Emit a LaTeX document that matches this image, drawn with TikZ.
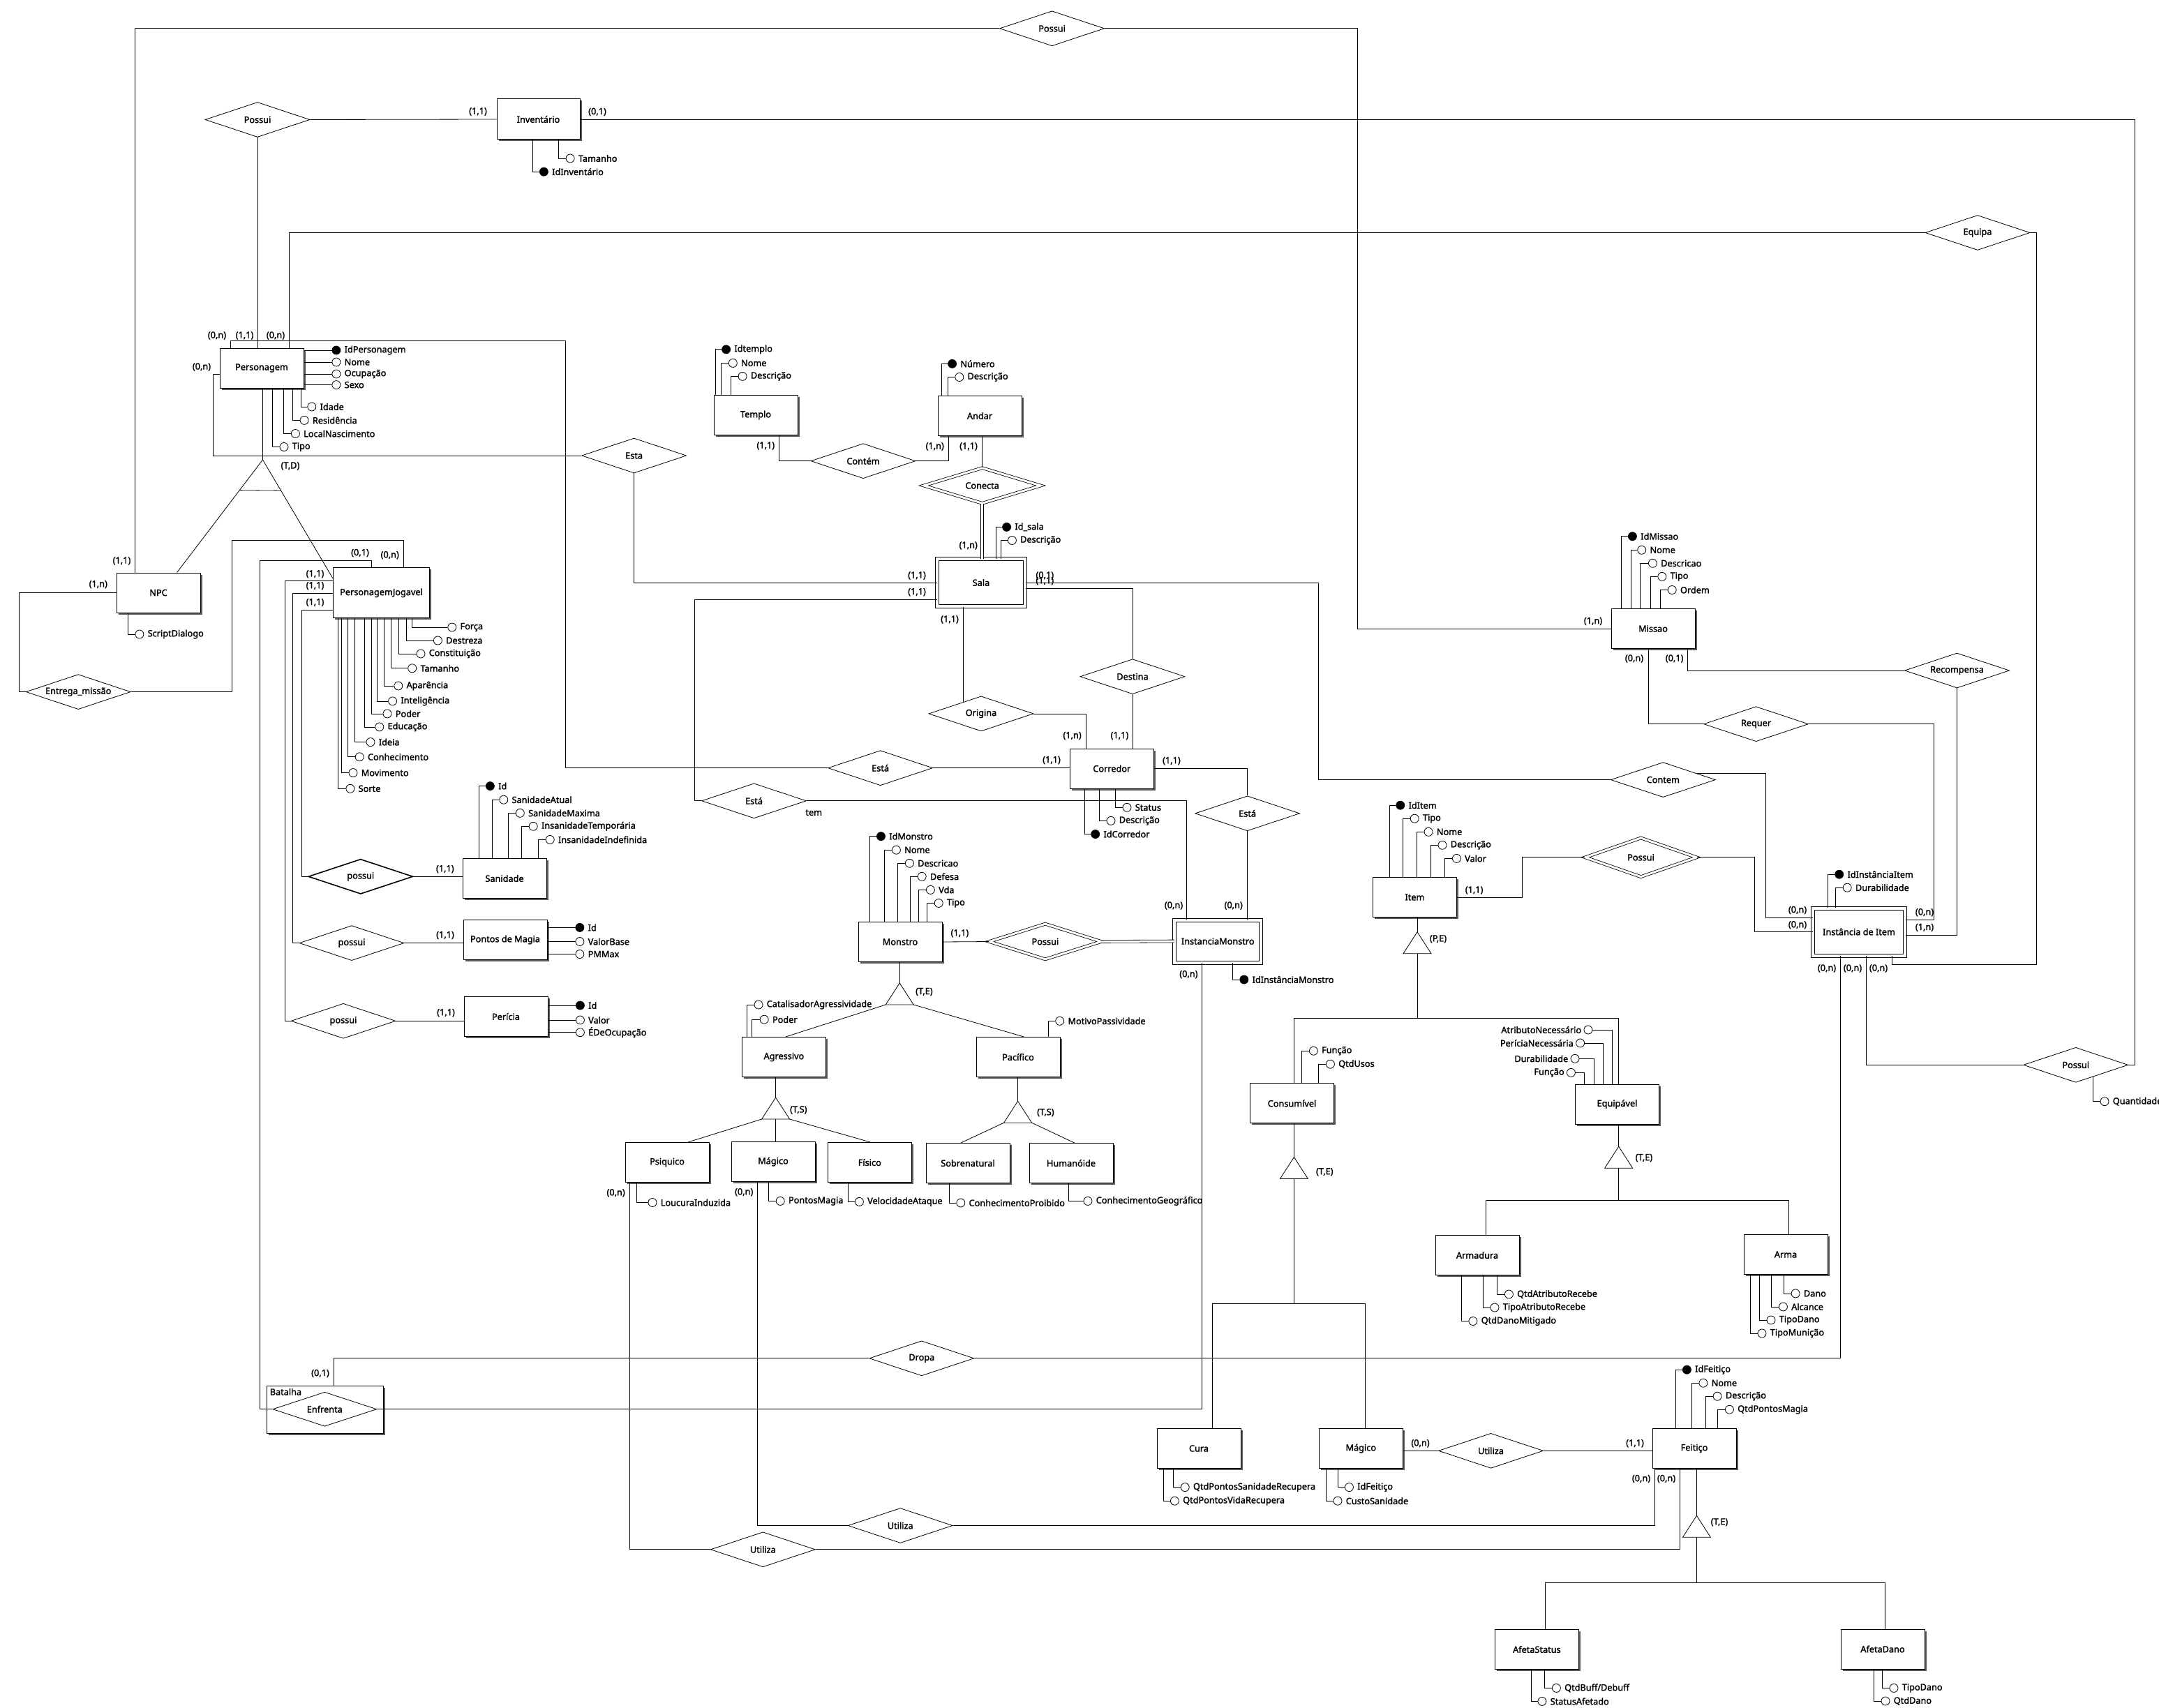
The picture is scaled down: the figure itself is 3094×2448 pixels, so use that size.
\documentclass[tikz,border=0pt]{standalone}
\usepackage{fontspec}
\setmainfont{Noto Sans}[AutoFakeBold=1.8]
\usetikzlibrary{shapes.geometric,shadows,calc}

\tikzset{
	entity/.style={draw, line width=1pt, fill=white, minimum width=120pt, minimum height=57pt, inner sep=2pt,
		drop shadow={shadow xshift=2.5pt, shadow yshift=-2.5pt, fill=black!65, opacity=1}},
	weakentity/.style={entity, double, double distance=4pt},
	rel/.style={draw, diamond, aspect=3, fill=white, minimum width=150pt, minimum height=50pt, inner sep=0pt},
	weakrel/.style={rel, double, double distance=3pt},
	attr/.style={draw, circle, fill=white, minimum size=12pt, inner sep=0pt},
	attrtxt/.style={anchor=west, inner sep=0pt, xshift=5pt},
	card/.style={inner sep=0pt},
	spec/.style={draw, fill=white},
}

\begin{document}
\begin{tikzpicture}[x=1pt, y=-1pt, line width=0.8pt, font=\bfseries\fontsize{12.7}{14}\selectfont]
	\useasboundingbox (0,0) rectangle (3094,2448);
	% entities
	\node[entity, minimum width=119pt, minimum height=58pt] (Inventario) at (771.5,171) {Inventário};
	\node[entity] (Personagem) at (375,527.5) {Personagem};
	\node[entity] (NPC) at (227,849.5) {NPC};
	\node[entity, minimum width=138pt, minimum height=72pt] (PJ) at (546.5,849.8) {PersonagemJogavel};
	\node[entity] (Sanidade) at (723,1259) {Sanidade};
	\node[entity] (PdM) at (724,1347) {Pontos de Magia};
	\node[entity] (Pericia) at (725,1457) {Perícia};
	\node[entity] (Templo) at (1083,595) {Templo};
	\node[entity] (Andar) at (1404,596) {Andar};
	\node[weakentity, minimum width=126pt, minimum height=68pt] (Sala) at (1406,835) {Sala};
	\node[entity] (Corredor) at (1593.3,1101.5) {Corredor};
	\node[entity] (Missao) at (2369,901) {Missao};
	\node[entity] (Monstro) at (1290,1350) {Monstro};
	\node[weakentity, minimum width=124pt, minimum height=61pt] (IM) at (1745.2,1349) {InstanciaMonstro};
	\node[entity] (Item) at (2027.4,1286) {Item};
	\node[weakentity, minimum width=132pt, minimum height=68pt] (InstItem) at (2664,1335.5) {Instância de Item};
	\node[entity] (Agressivo) at (1123.4,1515) {Agressivo};
	\node[entity] (Pacifico) at (1459,1515) {Pacífico};
	\node[entity] (Psiquico) at (956,1666) {Psiquico};
	\node[entity] (MagicoM) at (1108,1665) {Mágico};
	\node[entity] (Fisico) at (1246.3,1666) {Físico};
	\node[entity] (Sobrenatural) at (1387,1667) {Sobrenatural};
	\node[entity] (Humanoide) at (1535,1667) {Humanóide};
	\node[entity] (Consumivel) at (1851.5,1581.4) {Consumível};
	\node[entity] (Equipavel) at (2317.5,1582.5) {Equipável};
	\node[entity] (Armadura) at (2117,1799) {Armadura};
	\node[entity] (Arma) at (2559,1798) {Arma};
	\node[entity] (Cura) at (1718,2076) {Cura};
	\node[entity] (MagicoI) at (1950.3,2076) {Mágico};
	\node[entity] (Feitico) at (2428,2076) {Feitiço};
	\node[entity] (AfetaStatus) at (2202.4,2364) {AfetaStatus};
	\node[entity] (AfetaDano) at (2698,2363.5) {AfetaDano};
	% aggregation
	\node[entity, minimum width=167pt, minimum height=68pt] (Batalha) at (466.4,2020) {};
	\node[anchor=north west, inner sep=0pt] (BatalhaTxt) at ([shift={(4pt,-4pt)}]Batalha.north west) {Batalha};
	% relationships
	\node[rel] (PossuiTop) at (1507.6,40.8) {Possui};
	\node[rel] (PossuiInv) at (369,171.5) {Possui};
	\node[rel] (Equipa) at (2834,333.5) {Equipa};
	\node[rel] (Esta) at (908.6,653) {Esta};
	\node[rel] (ContemTA) at (1237,660.7) {Contém};
	\node[weakrel, minimum width=168pt, minimum height=51pt] (Conecta) at (1407.6,696) {Conecta};
	\node[rel] (Entrega) at (112.2,991.6) {Entrega\_missão};
	\node[rel] (Origina) at (1406,1022.9) {Origina};
	\node[rel] (Destina) at (1623,969.7) {Destina};
	\node[rel] (EstaCorr) at (1261.6,1100.7) {Está};
	\node[rel] (EstaSalaIM) at (1080.5,1147.8) {Está};
	\node[rel] (EstaCorrIM) at (1787.6,1165.8) {Está};
	\node[rel] (Recompensa) at (2804.5,961) {Recompensa};
	\node[rel] (Requer) at (2516.5,1037.7) {Requer};
	\node[rel] (ContemSI) at (2383.3,1117.6) {Contem};
	\node[weakrel, minimum width=160pt, minimum height=56pt] (PossuiI) at (2351.5,1228.8) {Possui};
	\node[weakrel, minimum width=161pt, minimum height=51pt] (PossuiM) at (1497.9,1349.5) {Possui};
	\node[rel, line width=1.6pt] (possuiSan) at (516.8,1256.3) {possui};
	\node[rel] (possuiPdM) at (504,1351.6) {possui};
	\node[rel] (possuiPer) at (492,1463.3) {possui};
	\node[rel] (Dropa) at (1320.8,1946.8) {Dropa};
	\node[rel, minimum width=149pt, minimum height=49pt] (Enfrenta) at (465.3,2019.7) {Enfrenta};
	\node[rel] (UtilizaM) at (1290.2,2186.5) {Utiliza};
	\node[rel] (UtilizaP) at (1093.3,2220.8) {Utiliza};
	\node[rel] (UtilizaF) at (2136.5,2079.3) {Utiliza};
	\node[rel] (PossuiQ) at (2974.7,1526.3) {Possui};
	\node (tem) at (1166.2,1164.7) {tem};

	% connectors
	\draw (NPC.north -| 193,0) |- (PossuiTop.west);
	\draw (PossuiTop.east) -| (1945.7,901) -- (Missao.west);
	\draw (PossuiInv.east) -- (Inventario.west);
	\draw (PossuiInv.south) -- (Personagem.north -| PossuiInv.south);
	\draw (Inventario.east) -| (3059.4,1526.3) -- (PossuiQ.east);
	\draw (PossuiQ.west) -| (InstItem.south -| 2674.2,0);
	\draw (Personagem.north -| 414,0) |- (Equipa.west);
	\draw (Equipa.east) -| (2918.5,1382) -| (InstItem.south -| 2711.7,0);
	\draw (Personagem.north -| 330.6,0) |- (810.6,488) |- (EstaCorr.west);
	\draw (EstaCorr.east) -- (Corredor.west |- EstaCorr.east);
	\draw (Personagem.west |- 0,536.3) -| (305,653) -- (Esta.west);
	\draw (Esta.south) |- (Sala.west);
	\draw (Sala.west |- 0,859.3) -| (995.3,1147.8) -- (EstaSalaIM.west);
	\draw (EstaSalaIM.east) -| (IM.north -| 1700.8,0);
	\coordinate (oriTop) at ($(Origina.north)!0.34!(Origina.west)$);
	\draw (Sala.south -| oriTop) -- (oriTop);
	\draw (Origina.east) -| (Corredor.north -| 1556,0);
	\draw (Sala.east |- 0,843.4) -| (Destina.north);
	\draw (Destina.south) -- (Corredor.north -| Destina.south);
	\draw (Sala.east) -| (1889.6,1117.6) -- (ContemSI.west);
	\coordinate (csiOut) at ($(ContemSI.north)!0.64!(ContemSI.east)$);
	\draw (csiOut) -| (2530.4,1315) -- (InstItem.west |- 0,1315);
	\draw (Templo.south -| 1116.7,0) |- (ContemTA.west);
	\draw (ContemTA.east) -| (Andar.south -| 1359.6,0);
	\draw (Andar.south -| Conecta.north) -- (Conecta.north);
	\draw[double, double distance=3pt] (Conecta.south) -- (Sala.north -| Conecta.south);
	\draw (PJ.north -| 578.6,0) |- (332.6,774) |- (Entrega.east);
	\draw (Entrega.west) -| (27.6,849.5) -- (NPC.west);
	\draw (PJ.north -| 532.6,0) |- (372.4,803.6) |- (Enfrenta.west);
	\draw (PJ.west |- 0,832.8) -| (408,1463.3) -- (possuiPer.west);
	\draw (PJ.west |- 0,850.3) -| (419.4,1351.6) -- (possuiPdM.west);
	\draw (PJ.west |- 0,874.6) -| (432.7,1256.3) -- (possuiSan.west);
	\draw (possuiSan.east) -- (Sanidade.west |- possuiSan.east);
	\draw (possuiPdM.east) -- (PdM.west |- possuiPdM.east);
	\draw (possuiPer.east) -- (Pericia.west |- possuiPer.east);
	\draw (Monstro.east) -- (PossuiM.west);
	\draw[double, double distance=3pt] (PossuiM.east) -- (IM.west);
	\draw (IM.north -| EstaCorrIM.south) -- (EstaCorrIM.south);
	\draw (EstaCorrIM.north) |- (Corredor.east);
	\draw (Enfrenta.east) -| (IM.south -| 1722,0);
	\draw (Batalha.north -| 478.6,0) |- (Dropa.west);
	\draw (Dropa.east) -| (InstItem.south -| 2637.6,0);
	\draw (Psiquico.south -| 902.4,0) |- (UtilizaP.west);
	\draw (UtilizaP.east) -| (Feitico.south -| 2407.3,0);
	\draw (MagicoM.south -| 1085.6,0) |- (UtilizaM.west);
	\draw (UtilizaM.east) -| (Feitico.south -| 2371.7,0);
	\draw (MagicoI.east |- UtilizaF.west) -- (UtilizaF.west);
	\draw (UtilizaF.east) -- (Feitico.west |- UtilizaF.east);
	\draw (Missao.south -| 2362.6,0) |- (Requer.west);
	\draw (Requer.east) -| (2771.8,1318.3) -- (InstItem.east |- 0,1318.3);
	\draw (Missao.south -| 2418.4,0) |- (Recompensa.west);
	\draw (Recompensa.south) |- (InstItem.east |- 0,1340);
	\draw (Item.east) -| (2181.4,1228.8) -- (PossuiI.west);
	\draw (PossuiI.east) -| (2514.6,1335.5) -- (InstItem.west);

	% generalizations
	\coordinate (gPer) at (376.5,659);
	\coordinate (gNPC) at (NPC.north -| 253.6,0);
	\coordinate (gPJ) at (PJ.west |- 0,829);
	\draw (Personagem.south -| gPer) -- (gPer) -- (gNPC);
	\draw (gPer) -- (gPJ);
	\draw ($(gPer)!0.27!(gNPC)$) -- ($(gPer)!0.26!(gPJ)$);
	\coordinate (gMon) at (1289.2,1409);
	\coordinate (gAgr) at (1111.6,1573);
	\coordinate (gPac) at (1458.6,1578.2);
	\coordinate (gItem) at (2031,1335.7);
	\coordinate (gCon) at (1854.4,1658.5);
	\coordinate (gEqu) at (2319.7,1643.2);
	\coordinate (gFei) at (2431.4,2172.3);
	\draw (Monstro.south -| gMon) -- (gMon);
	\draw ($(gMon)+(-20,31)$) -- (Agressivo.north -| 1126,0);
	\draw ($(gMon)+(20,31)$) -- (Pacifico.north -| 1467.2,0);
	\draw (Agressivo.south -| gAgr) -- (gAgr);
	\draw ($(gAgr)+(-20,31)$) -- (Psiquico.north -| 986,0);
	\draw ($(gAgr)+(0,31)$) -- (MagicoM.north -| gAgr);
	\draw ($(gAgr)+(20,31)$) -- (Fisico.north -| 1247.3,0);
	\draw (Pacifico.south -| gPac) -- (gPac);
	\draw ($(gPac)+(-20,31)$) -- (Sobrenatural.north -| 1377,0);
	\draw ($(gPac)+(20,31)$) -- (Humanoide.north -| 1539.7,0);
	\draw (Item.south -| gItem) -- (gItem);
	\draw ($(gItem)+(0,31)$) -- (gItem |- 0,1459);
	\draw (Consumivel.north -| gCon) |- (gEqu |- 0,1459) -- (Equipavel.north -| gEqu);
	\draw (Consumivel.south -| gCon) -- (gCon);
	\draw ($(gCon)+(0,31)$) -- (gCon |- 0,1868);
	\draw (Cura.north -| 1737.6,0) |- (1956.4,1868) -- (MagicoI.north -| 1956.4,0);
	\draw (Equipavel.south -| gEqu) -- (gEqu);
	\draw ($(gEqu)+(0,31)$) -- (gEqu |- 0,1720.8);
	\draw (Armadura.north -| 2129.4,0) |- (2563.6,1720.8) -- (Arma.north -| 2563.6,0);
	\draw (Feitico.south -| gFei) -- (gFei);
	\draw ($(gFei)+(0,31)$) -- (gFei |- 0,2268.4);
	\draw (AfetaStatus.north -| 2214,0) |- (2701.6,2268.4) -- (AfetaDano.north -| 2701.6,0);
	\foreach \g in {gMon,gAgr,gPac,gItem,gCon,gEqu,gFei}
		\draw[spec] (\g) -- ++(-20,31) -- ++(40,0) -- cycle;
	\foreach \x/\y/\a/\b [count=\i] in {416/668/T/D, 1324.4/1421.5/T/E, 1144.3/1590.9/T/S,
		1498.4/1594.6/T/S, 2061/1345.8/P/E, 1898.3/1679.7/T/E, 2355.9/1659.6/T/E, 2464/2181.8/T/E}
		\node[card] (spec\i) at (\x,\y) {(\a,\b)};

	% cardinalities
	\foreach \x/\y/\a/\b [count=\i] in {174.5/804/1/1, 2283/890.5/1/n, 685/160/1/1, 856/160.4/0/1,
		311/481/0/n, 350.5/481/1/1, 395/481/0/n, 289/526/0/n, 1314/825/1/1, 1314/848.7/1/1,
		1361/888/1/1, 1497.3/824.9/0/1, 1497.3/832.8/1/1, 1097.3/639/1/1, 1339.7/640/1/n,
		1388/640/1/1, 1387.7/782/1/n, 1536.6/1054.6/1/n, 1604.4/1054.6/1/1, 1507/1089.6/1/1,
		1678.9/1090.6/1/1, 1682/1298/0/n, 1767.7/1298/0/n, 1703.4/1396.6/0/n, 1375.4/1337.8/1/1,
		516/792.5/0/1, 558.7/795.7/0/n, 451.5/822.8/1/1, 451.5/839.7/1/1, 451.5/863.5/1/1,
		140.8/837.6/1/n, 637.8/1245.7/1/1, 638/1340.5/1/1, 639/1451.7/1/1, 459/1968.5/0/1,
		882.6/1709.8/0/n, 1066.2/1708.7/0/n, 2342/944/0/n, 2399.6/944/0/1, 2758/1307.7/0/n,
		2758/1329.4/1/n, 2576/1304.5/0/n, 2576/1325.7/0/n, 2618/1388/0/n, 2655/1388/0/n,
		2692/1388/0/n, 2112.6/1276/1/1, 2035.5/2068.8/0/n, 2343/2068.8/1/1, 2352/2119.5/0/n,
		2388/2119.5/0/n}
		\node[card] (card\i) at (\x,\y) {(\a,\b)};

	% attributes hanging from a box edge
	\foreach \e/\s/\lx/\ay/\cx/\fc/\t [count=\i] in {
		Personagem/south/431/583/446.4/white/Idade, Personagem/south/419.4/602.4/435.7/white/Residência,
		Personagem/south/406.6/621.5/423/white/LocalNascimento, Personagem/south/390/640.5/406.6/white/Tipo,
		Inventario/south/763.8/246.2/779/black/IdInventário, Inventario/south/800.4/227/816.7/white/Tamanho,
		NPC/south/183.7/909/199.5/white/ScriptDialogo,
		PJ/south/590.8/899/647.4/white/Força, PJ/south/582/918/627/white/Destreza,
		PJ/south/571.4/937/602.6/white/Constituição, PJ/south/560.7/957.8/590.3/white/Tamanho,
		PJ/south/550/983/570.4/white/Aparência, PJ/south/540.3/1004.9/562.2/white/Inteligência,
		PJ/south/532.7/1022.9/554.6/white/Poder, PJ/south/522.4/1041.9/543.4/white/Educação,
		PJ/south/508.7/1063.6/530.6/white/Ideia, PJ/south/498.5/1084.8/514.8/white/Conhecimento,
		PJ/south/489.3/1107.6/505.6/white/Movimento, PJ/south/484.7/1130.3/501.5/white/Sorte,
		Sanidade/north/686.7/1126.6/702/black/Id, Sanidade/north/705.6/1146.2/721.4/white/SanidadeAtual,
		Sanidade/north/728.6/1165.3/744.9/white/SanidadeMaxima,
		Sanidade/north/747.4/1184.3/763.8/white/InsanidadeTemporária,
		Sanidade/north/771.4/1203.4/787.8/white/InsanidadeIndefinida,
		Templo/north/1024.9/500.8/1040.2/black/Idtemplo, Templo/north/1033.6/520.4/1049.9/white/Nome,
		Templo/north/1047.3/539.4/1063.7/white/Descrição,
		Andar/north/1348.9/521.4/1364.2/black/Número, Andar/north/1358.6/540.5/1374.4/white/Descrição,
		Sala/north/1427/755.4/1442.2/black/Id\_sala, Sala/north/1434/774.5/1450/white/Descrição,
		Corredor/south/1598.8/1157.3/1614.6/white/Status, Corredor/south/1575.8/1176.4/1591.6/white/Descrição,
		Corredor/south/1554/1195.5/1569.3/black/IdCorredor,
		Monstro/north/1246.3/1198.6/1262.1/black/IdMonstro, Monstro/north/1267.8/1218.2/1284/white/Nome,
		Monstro/north/1286.6/1237.3/1303/white/Descricao, Monstro/north/1304.5/1256.3/1320.8/white/Defesa,
		Monstro/north/1316.7/1275.4/1333/white/Vda, Monstro/north/1328.5/1294.4/1344.8/white/Tipo,
		IM/south/1766/1404/1782.4/black/IdInstânciaMonstro,
		Agressivo/north/1070.3/1440/1086.6/white/CatalisadorAgressividade,
		Agressivo/north/1077.4/1461.2/1094.8/white/Poder,
		Pacifico/north/1502.4/1463.3/1518.3/white/MotivoPassividade,
		Psiquico/south/912.7/1723.5/934.6/white/LoucuraInduzida,
		MagicoM/south/1101.4/1721.4/1117.8/white/PontosMagia,
		Fisico/south/1215.2/1722.4/1231/white/VelocidadeAtaque,
		Sobrenatural/south/1360/1724/1376.4/white/ConhecimentoProibido,
		Humanoide/south/1531.5/1721.4/1558.6/white/ConhecimentoGeográfico,
		Missao/north/2323.8/768.7/2339/black/IdMissao, Missao/north/2337/788.3/2352.3/white/Nome,
		Missao/north/2350.6/807.3/2368/white/Descricao, Missao/north/2365/826.4/2381.4/white/Tipo,
		Missao/north/2379.4/845.5/2395.8/white/Ordem,
		Item/north/1991/1154.2/2006.4/black/IdItem, Item/north/2010.5/1173.2/2026.8/white/Tipo,
		Item/north/2030.4/1192.3/2046.7/white/Nome, Item/north/2050.3/1211.3/2066.6/white/Descrição,
		Item/north/2070.7/1230.4/2087/white/Valor,
		InstItem/north/2619.4/1253.2/2635.3/black/IdInstânciaItem,
		InstItem/north/2630.4/1272.2/2646.8/white/Durabilidade,
		Consumivel/north/1865.6/1506.2/1882/white/Função, Consumivel/north/1889.6/1525.2/1906/white/QtdUsos,
		Armadura/south/2145.7/1855/2162/white/QtdAtributoRecebe,
		Armadura/south/2125.3/1874/2141.6/white/TipoAtributoRecebe,
		Armadura/south/2094.7/1893.5/2110.5/white/QtdDanoMitigado,
		Arma/south/2556.4/1853.9/2572.7/white/Dano, Arma/south/2538.6/1872.9/2555/white/Alcance,
		Arma/south/2521.3/1892/2537.6/white/TipoDano, Arma/south/2508.8/1911/2524.6/white/TipoMunição,
		Cura/south/1681.4/2131.6/1697.8/white/QtdPontosSanidadeRecupera,
		Cura/south/1667.1/2151.2/1683/white/QtdPontosVidaRecupera,
		MagicoI/south/1917.1/2131.6/1933/white/IdFeitiço, MagicoI/south/1900.3/2151.2/1916.6/white/CustoSanidade,
		Feitico/north/2401.5/1963.2/2417/black/IdFeitiço, Feitico/north/2424.6/1982.2/2440.5/white/Nome,
		Feitico/north/2444.3/2001.2/2460.7/white/Descrição, Feitico/north/2461.7/2020.2/2478/white/QtdPontosMagia,
		AfetaStatus/south/2213.6/2419.4/2230/white/{QtdBuff/Debuff},
		AfetaStatus/south/2194.2/2438.4/2209.5/white/StatusAfetado,
		AfetaDano/south/2697.3/2419.4/2713.6/white/TipoDano, AfetaDano/south/2685.7/2438/2701.6/white/QtdDano}
		\draw (\e.\s -| \lx,0) |- (\cx-6,\ay) node[attr, fill=\fc, anchor=west] (at\i) {}
			(at\i.east) node[attrtxt] (atx\i) {\t};

	% attributes straight out of a box side
	\foreach \e/\cx/\ay/\fc/\t [count=\i] in {
		Personagem/481.5/502/black/IdPersonagem, Personagem/481.5/519/white/Nome,
		Personagem/481.5/536/white/Ocupação, Personagem/481.5/551.6/white/Sexo,
		PdM/830.5/1329.4/black/Id, PdM/830.5/1349.5/white/ValorBase, PdM/830.5/1367.5/white/PMMax,
		Pericia/831/1441/black/Id, Pericia/831/1462/white/Valor, Pericia/831/1479.7/white/ÉDeOcupação}
		\draw (\e.east |- 0,\ay) -- (\cx-6,\ay) node[attr, fill=\fc, anchor=west] (sa\i) {}
			(sa\i.east) node[attrtxt] (sax\i) {\t};

	% attributes of Equipavel, text on the left
	\foreach \lx/\ay/\cx/\t [count=\i] in {2310/1476/2276.3/AtributoNecessário,
		2297.8/1495/2265/PeríciaNecessária, 2284.5/1517.3/2257.4/Durabilidade, 2270.2/1537.4/2251.8/Função}
		\draw (Equipavel.north -| \lx,0) |- (\cx+6,\ay) node[attr, anchor=east] (eq\i) {}
			(eq\i.west) node[attrtxt, anchor=east, xshift=-8pt] (eqx\i) {\t};

	% attribute of the relationship
	\coordinate (qLeg) at ($(PossuiQ.south)!0.33!(PossuiQ.east)$);
	\draw (qLeg) |- (3009.6,1578.7) node[attr, anchor=west] (qa) {} (qa.east) node[attrtxt] (qax) {Quantidade};
\end{tikzpicture}
\end{document}
